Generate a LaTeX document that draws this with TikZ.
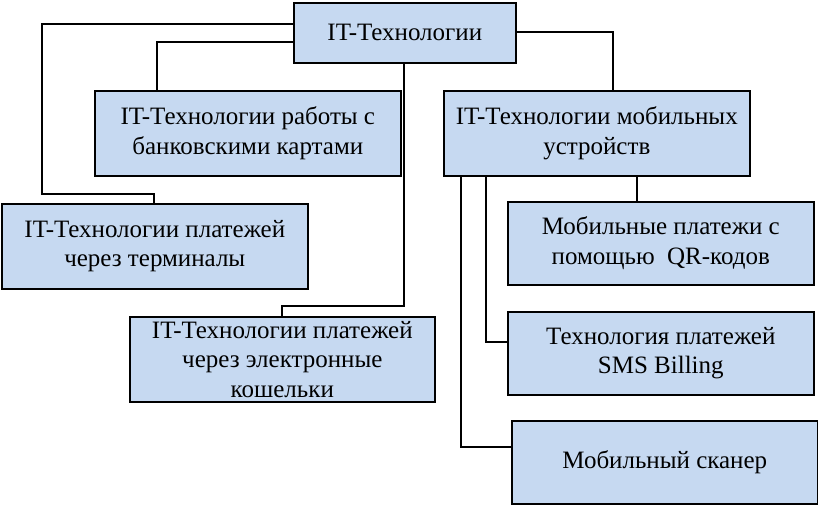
\documentclass[tikz,border=0pt]{standalone}
\usepackage{fontspec}
\setmainfont{Liberation Serif}
\definecolor{boxfill}{RGB}{198,217,241}
\begin{document}
\begin{tikzpicture}[x=1pt,y=-1pt,
  box/.style={draw=black, line width=1.6pt, fill=boxfill, anchor=north west,
    inner sep=0pt, align=center, font=\fontsize{25}{29.5}\selectfont},
  conn/.style={line width=1.6pt, line join=miter}]
\useasboundingbox (0,0) rectangle (818,505);
\node[box, minimum width=222pt, minimum height=60pt] (top) at (293,2) {IT-Технологии};
\node[box, minimum width=306pt, minimum height=85pt] (bank) at (94,90) {IT-Технологии работы с\\банковскими картами};
\node[box, minimum width=306pt, minimum height=85pt] (mob) at (443,90) {IT-Технологии мобильных\\устройств};
\node[box, minimum width=306pt, minimum height=85pt] (term) at (1,203) {IT-Технологии платежей\\через терминалы};
\node[box, minimum width=305pt, minimum height=85pt] (wal) at (129,316) {IT-Технологии платежей\\через электронные\\кошельки};
\node[box, minimum width=306pt, minimum height=83pt] (qr) at (507,201) {Мобильные платежи с\\помощью\ \ QR-кодов};
\node[box, minimum width=306pt, minimum height=83pt] (sms) at (507,311) {Технология платежей\\SMS Billing};
\node[box, minimum width=306pt, minimum height=83pt] (scan) at (511,420) {Мобильный сканер};
\draw[conn] (top.west |- 0,24) -- (42,24) -- (42,194) -| (154,0 |- term.north);
\draw[conn] (top.west |- 0,42) -| (157,0 |- bank.north);
\draw[conn] (404,0 |- top.south) -- (404,306) -| (282,0 |- wal.north);
\draw[conn] (top.east |- 0,32) -| (613,0 |- mob.north);
\draw[conn] (637,0 |- mob.south) -- (637,0 |- qr.north);
\draw[conn] (486,0 |- mob.south) |- (sms.west |- 0,342);
\draw[conn] (461,0 |- mob.south) |- (scan.west |- 0,447);
\end{tikzpicture}
\end{document}
